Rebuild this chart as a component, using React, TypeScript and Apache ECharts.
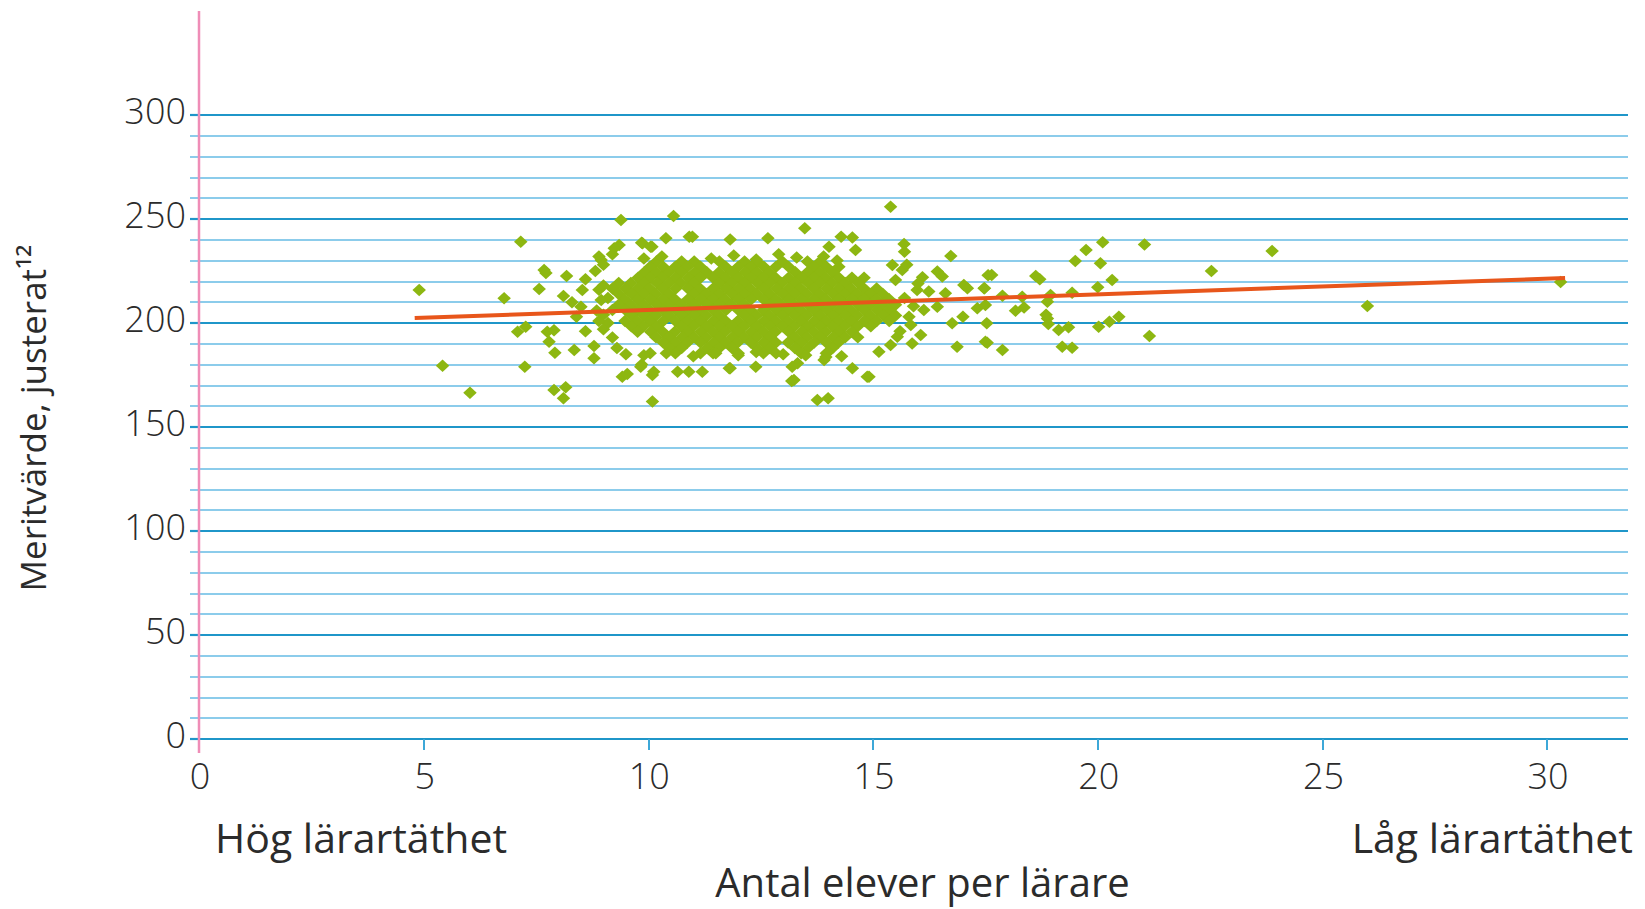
import React, { useEffect, useRef } from "react";
import * as echarts from "echarts";

// ---- Data ----
const xTickValues = [0, 5, 10, 15, 20, 25, 30];

// dense core of the cloud: [y, x-values on that row]
const coreRows: [number, number[]][] = [
  [229.6, [10.18, 10.74, 11.02, 11.58, 12.14, 12.42, 12.98, 13.54, 13.82]],
  [227.0, [10.04, 10.33, 10.6, 10.87, 11.16, 11.72, 12.0, 12.28, 12.57, 12.84, 13.12, 13.68, 13.96, 14.24]],
  [224.4, [9.91, 10.18, 10.45, 10.74, 11.03, 11.3, 11.57, 11.86, 12.15, 12.42, 12.69, 13.27, 13.54, 13.81, 14.1]],
  [221.8, [9.77, 10.04, 10.31, 10.6, 10.89, 11.16, 11.44, 11.71, 12.0, 12.29, 12.56, 12.83, 13.12, 13.41, 13.68, 13.95, 14.24, 14.53, 14.8]],
  [219.2, [9.34, 9.61, 9.9, 10.19, 10.46, 10.73, 11.02, 11.58, 11.85, 12.14, 12.43, 12.7, 12.97, 13.26, 13.55, 13.82, 14.09, 14.38, 14.67]],
  [216.6, [9.2, 9.49, 9.76, 10.03, 10.32, 10.61, 10.88, 11.15, 11.44, 11.73, 12.0, 12.27, 12.56, 12.85, 13.12, 13.39, 13.68, 13.97, 14.24, 14.51, 14.8, 15.08]],
  [214.0, [9.34, 9.63, 9.9, 10.17, 10.46, 11.02, 11.29, 11.58, 11.87, 12.14, 12.41, 12.7, 12.99, 13.26, 13.53, 13.82, 14.11, 14.38, 14.65, 14.94, 15.22]],
  [211.4, [9.47, 9.76, 10.05, 10.32, 10.59, 10.88, 11.17, 11.44, 11.71, 12.0, 12.29, 12.56, 12.83, 13.12, 13.41, 13.68, 13.95, 14.24, 14.53, 14.8, 15.07, 15.36]],
  [208.8, [9.34, 9.61, 9.9, 10.19, 10.46, 10.73, 11.02, 11.31, 11.58, 11.85, 12.14, 12.7, 12.97, 13.26, 13.55, 13.82, 14.09, 14.38, 14.67, 14.94, 15.21, 15.5]],
  [206.2, [9.2, 9.49, 9.76, 10.03, 10.32, 10.61, 10.88, 11.15, 11.44, 11.73, 12.0, 12.27, 12.56, 12.85, 13.12, 13.39, 13.68, 13.97, 14.24, 14.51, 14.8, 15.09, 15.36]],
  [203.6, [9.63, 9.9, 10.17, 10.46, 10.75, 11.02, 11.29, 11.58, 12.14, 12.41, 12.7, 12.99, 13.26, 13.53, 13.82, 14.11, 14.38, 14.65, 14.94, 15.23, 15.5]],
  [201.0, [9.48, 9.75, 10.04, 10.33, 10.6, 10.87, 11.16, 11.45, 11.72, 11.99, 12.28, 12.57, 12.84, 13.11, 13.4, 13.69, 13.96, 14.23, 14.52, 14.81, 15.08, 15.36]],
  [198.4, [9.62, 9.89, 10.18, 10.74, 11.01, 11.3, 11.59, 11.86, 12.13, 12.42, 12.71, 12.98, 13.25, 13.54, 13.83, 14.1, 14.37, 14.66, 14.95]],
  [195.8, [9.76, 10.05, 10.32, 10.59, 10.88, 11.17, 11.44, 11.71, 12.0, 12.29, 12.56, 12.83, 13.12, 13.41, 13.68, 13.95, 14.24, 14.53]],
  [193.2, [10.17, 10.46, 10.75, 11.02, 11.29, 11.58, 11.87, 12.14, 12.41, 12.7, 13.26, 13.53, 13.82, 14.11, 14.38, 14.66]],
  [190.6, [10.33, 10.6, 10.87, 11.16, 11.45, 11.72, 11.99, 12.28, 12.57, 12.84, 13.11, 13.4, 13.69, 13.96, 14.23]],
  [188.0, [10.47, 10.74, 11.31, 11.58, 11.86, 12.42, 12.7, 13.26, 13.55, 14.1]],
  [185.4, [10.04, 10.6, 11.16, 11.44, 12.0, 12.56, 12.84, 13.4, 13.96]],
];

// scattered schools around the core: [x, y]
const fringePoints: [number, number][] = [
  [4.9, 215.9], [5.42, 179.5], [6.03, 166.5], [6.79, 211.9], [7.16, 239.1], [7.25, 179.0],
  [7.57, 216.3], [7.68, 225.5], [7.72, 224.0], [8.18, 222.6], [8.11, 213.0], [7.09, 195.8],
  [7.27, 198.2], [7.75, 195.8], [7.9, 196.5], [7.79, 191.0], [7.92, 185.7], [8.35, 187.0],
  [8.79, 183.0], [7.9, 167.8], [8.16, 169.1], [8.11, 163.8], [9.39, 249.5], [10.56, 251.4],
  [8.95, 230.3], [9.2, 233.0], [9.35, 237.5], [9.85, 238.6], [10.08, 236.7], [10.39, 240.7],
  [10.91, 241.5], [9.42, 174.2], [10.09, 175.0], [10.09, 162.2], [9.85, 180.0], [10.65, 176.6],
  [10.9, 176.6], [8.79, 189.0], [8.6, 196.0], [8.5, 207.8], [8.53, 215.9], [8.6, 221.0], [8.82, 225.0],
  [15.39, 255.9], [13.48, 245.5], [12.66, 240.7], [11.82, 240.2], [14.29, 241.5], [14.54, 241.1],
  [14.02, 236.7], [15.69, 238.0], [15.7, 234.3], [16.73, 232.2], [14.61, 235.1], [15.43, 227.9],
  [15.65, 225.5], [16.43, 224.7], [16.54, 222.3], [17.56, 223.0], [15.5, 220.7], [15.98, 215.9],
  [16.24, 215.1], [16.61, 214.3], [17.02, 218.3], [17.1, 216.7], [17.47, 216.7], [16.43, 207.8],
  [16.13, 206.3], [17.0, 203.0], [16.76, 199.9], [17.32, 207.1], [15.84, 199.0], [16.06, 194.2],
  [15.54, 193.4], [15.87, 190.2], [15.39, 189.4], [15.13, 186.2], [16.87, 188.6], [17.5, 191.0],
  [14.91, 174.2], [14.54, 178.2], [13.91, 182.2], [13.76, 163.0], [14.0, 163.8], [13.19, 172.1],
  [13.32, 180.6], [12.39, 179.0], [11.82, 178.2], [11.2, 176.6], [10.98, 241.5],
  [23.88, 234.6], [22.53, 225.0], [21.04, 237.8], [21.15, 193.8], [20.11, 238.8], [19.74, 235.1],
  [19.5, 229.8], [20.06, 228.7], [20.32, 220.7], [20.0, 217.2], [19.43, 214.6], [20.47, 203.0],
  [20.26, 200.6], [20.02, 198.2], [19.21, 188.6], [19.43, 188.1], [19.13, 196.6], [19.35, 198.0],
  [18.88, 202.2], [18.9, 199.5], [18.85, 204.0], [18.88, 210.2], [18.95, 213.5], [18.62, 222.6],
  [18.71, 221.0], [18.36, 207.5], [18.17, 205.9], [18.32, 212.6], [17.88, 213.1], [17.64, 223.1],
  [17.48, 216.7], [17.5, 208.6], [17.53, 199.9], [17.54, 190.5], [17.88, 187.0],
  [26.0, 208.2], [30.3, 219.7],
  [9.87, 238.3], [10.05, 236.7], [9.24, 235.9], [9.9, 231.0], [10.3, 232.0], [11.4, 231.0],
  [11.9, 232.5], [12.4, 230.5], [12.9, 233.0], [13.3, 231.5], [13.9, 232.0], [14.2, 230.0],
  [16.1, 222.0], [9.53, 175.5], [9.83, 179.0], [10.12, 176.6], [11.8, 178.2], [13.2, 179.0],
  [13.24, 172.6], [13.95, 183.7], [14.87, 174.2],
  [9.5, 185.0], [9.9, 184.5], [10.4, 185.5], [11.0, 184.0], [11.5, 185.5], [12.0, 184.5],
  [12.4, 186.0], [13.0, 185.0], [13.5, 184.5], [14.0, 186.0], [14.3, 184.0],
  [9.0, 228.0], [9.0, 218.0], [9.1, 212.0], [9.0, 204.0], [9.1, 200.0], [9.2, 193.0], [9.3, 188.0],
  [8.3, 210.0], [8.4, 203.0], [8.9, 232.0], [8.9, 216.0], [8.95, 211.0], [8.85, 206.0], [8.9, 201.0],
  [9.0, 197.0], [15.7, 212.0], [15.9, 208.0], [15.8, 203.0], [16.0, 219.0], [15.6, 196.0], [15.75, 228.0],
];

// linear trend line end points
const trendX = [4.8, 30.4];
const trendY = [202.4, 221.6];

// ---- Styles ----
const FONT = '"Open Sans", "Noto Sans", sans-serif';
const MINOR = "#66bbe5";
const MAJOR = "#1f96c9";
const TICKX = "#3ea8d8";
const GREEN = "#8db711";
const ORANGE = "#e8561b";
const PINK = "#ef8db7";
const TXT = "#2b2b2b";

export default function App() {
  const ref = useRef<HTMLDivElement>(null);

  useEffect(() => {
    if (!ref.current) return;
    const chart = echarts.init(ref.current, undefined, { renderer: "svg" });

    const scatterData: number[][] = [];
    coreRows.forEach(([y, xs]) => xs.forEach((x) => scatterData.push([x, y])));
    fringePoints.forEach((p) => scatterData.push([p[0], p[1]]));
    const trendData = trendX.map((x, i) => [x, trendY[i]]);

    chart.setOption({
      animation: false,
      backgroundColor: "#ffffff",
      textStyle: { fontFamily: FONT },
      grid: { left: 199, right: 17, top: 115, bottom: 170, containLabel: false },
      xAxis: {
        type: "value",
        min: 0,
        max: 31.8,
        interval: 5,
        axisLine: { show: false },
        axisTick: {
          show: true,
          length: 11,
          customValues: xTickValues,
          lineStyle: { color: TICKX, width: 2 },
        },
        axisLabel: {
          customValues: xTickValues,
          fontSize: 36,
          fontWeight: 300,
          color: TXT,
          margin: 18,
          padding: [0, 0, 0, 2],
          fontFamily: FONT,
        },
        splitLine: { show: false },
        name: "Antal elever per lärare",
        nameLocation: "middle",
        nameGap: 122,
        nameTextStyle: { fontSize: 40, color: TXT, fontFamily: FONT, padding: [0, 0, 0, 18] },
      },
      yAxis: [
        {
          type: "value",
          min: 0,
          max: 300,
          interval: 10,
          position: "left",
          axisLine: { show: false },
          axisTick: { show: true, length: 9, lineStyle: { color: MINOR, width: 1.5 } },
          axisLabel: { show: false },
          splitLine: { show: true, lineStyle: { color: MINOR, width: 1.5 } },
        },
        {
          type: "value",
          min: 0,
          max: 300,
          interval: 50,
          position: "left",
          axisLine: { show: false },
          axisTick: { show: true, length: 9, lineStyle: { color: MAJOR, width: 2.2 } },
          axisLabel: {
            fontSize: 36,
            fontWeight: 300,
            color: TXT,
            margin: 13,
            verticalAlign: "bottom",
            lineHeight: 10,
            fontFamily: FONT,
          },
          splitLine: { show: true, lineStyle: { color: MAJOR, width: 2.2 } },
          name: "Meritvärde, justerat¹²",
          nameLocation: "middle",
          nameGap: 149,
          nameTextStyle: { fontSize: 35, color: TXT, fontFamily: FONT, padding: [0, 0, 0, 18] },
        },
      ],
      series: [
        {
          type: "scatter",
          xAxisIndex: 0,
          yAxisIndex: 1,
          symbol: "diamond",
          symbolSize: [13.5, 12.5],
          itemStyle: { color: GREEN, opacity: 1 },
          data: scatterData,
          z: 3,
        },
        {
          type: "line",
          xAxisIndex: 0,
          yAxisIndex: 1,
          data: trendData,
          showSymbol: false,
          symbol: "none",
          lineStyle: { color: ORANGE, width: 4 },
          z: 4,
        },
      ],
    });

    const p0 = chart.convertToPixel({ xAxisIndex: 0, yAxisIndex: 1 }, [0, 0]) as number[];
    const pTop = chart.convertToPixel({ xAxisIndex: 0, yAxisIndex: 1 }, [0, 350]) as number[];
    const pRight = chart.convertToPixel({ xAxisIndex: 0, yAxisIndex: 1 }, [31.8, 0]) as number[];
    chart.setOption({
      graphic: [
        {
          type: "line",
          z: 10,
          shape: { x1: p0[0], y1: pTop[1], x2: p0[0], y2: p0[1] + 14 },
          style: { stroke: PINK, lineWidth: 2.5 },
        },
        {
          type: "text",
          z: 10,
          x: p0[0] + 16,
          y: p0[1] + 98,
          style: {
            text: "Hög lärartäthet",
            fontSize: 41,
            fontFamily: FONT,
            fill: TXT,
            textAlign: "left",
            textVerticalAlign: "middle",
          },
        },
        {
          type: "text",
          z: 10,
          x: pRight[0] + 5,
          y: p0[1] + 98,
          style: {
            text: "Låg lärartäthet",
            fontSize: 41,
            fontFamily: FONT,
            fill: TXT,
            textAlign: "right",
            textVerticalAlign: "middle",
          },
        },
      ],
    });

    return () => chart.dispose();
  }, []);

  return (
    <div
      ref={ref}
      style={{ position: "fixed", left: 0, top: 0, width: 1645, height: 909, background: "#fff" }}
    />
  );
}
